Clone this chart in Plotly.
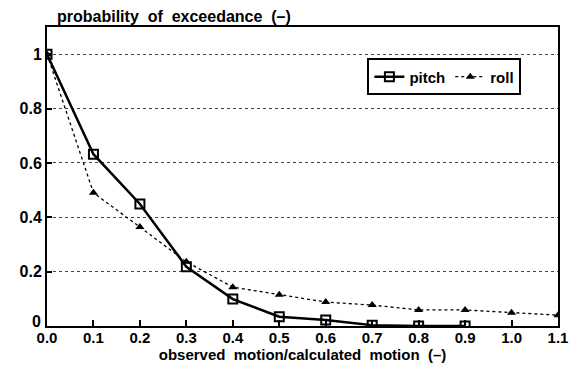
import plotly.graph_objects as go

x_vals = [0.0, 0.1, 0.2, 0.3, 0.4, 0.5, 0.6, 0.7, 0.8, 0.9, 1.0, 1.1]
pitch_x = [0.0, 0.1, 0.2, 0.3, 0.4, 0.5, 0.6, 0.7, 0.8, 0.9]
pitch_y = [1.0, 0.632, 0.449, 0.218, 0.099, 0.034, 0.022, 0.003, 0.0, 0.0]
roll_x = [0.0, 0.1, 0.2, 0.3, 0.4, 0.5, 0.6, 0.7, 0.8, 0.9, 1.0, 1.1]
roll_y = [1.0, 0.49, 0.364, 0.236, 0.143, 0.115, 0.088, 0.077, 0.059, 0.059, 0.049, 0.04]
x_ticktext = ["0.0", "0.1", "0.2", "0.3", "0.4", "0.5", "0.6", "0.7", "0.8", "0.9", "1.0", "1.1"]
y_tickvals = [0, 0.2, 0.4, 0.6, 0.8, 1.0]
y_ticktext = ["", "0.2", "0.4", "0.6", "0.8", "1"]
y_zero_label = "0"

FONT = "Liberation Sans"

fig = go.Figure()
fig.add_trace(go.Scatter(
    x=pitch_x, y=pitch_y, name="pitch", mode="lines+markers",
    line=dict(color="black", width=2.5),
    marker=dict(symbol="square-open", size=9, color="black", line=dict(width=2)),
))
fig.add_trace(go.Scatter(
    x=roll_x, y=roll_y, name="roll", mode="lines+markers",
    line=dict(color="black", width=1.3, dash="dot"),
    marker=dict(symbol="triangle-up", size=8, color="black"),
))

fig.update_layout(
    width=580, height=375,
    margin=dict(l=47, r=19, t=27, b=49),
    paper_bgcolor="white", plot_bgcolor="white",
    font=dict(family=FONT, size=14, color="black"),
    showlegend=True,
    legend=dict(
        x=0.627, y=0.895, xanchor="left", yanchor="top",
        orientation="h", bordercolor="black", borderwidth=2,
        bgcolor="white",
        font=dict(family=FONT, size=15, color="black", weight="bold"),
        itemwidth=30, tracegroupgap=0,
    ),
    annotations=[
        dict(
            text="<b>probability  of  exceedance  (–)</b>",
            xref="paper", yref="paper", x=0.015, y=1.0, xanchor="left", yanchor="bottom",
            showarrow=False, font=dict(family=FONT, size=16, color="black"),
        ),
        dict(
            text="<b>" + y_zero_label + "</b>",
            xref="paper", yref="y", x=0, y=0, xanchor="right", yanchor="middle",
            xshift=-4, yshift=5, showarrow=False,
            font=dict(family=FONT, size=16, color="black"),
        ),
    ],
)
fig.update_xaxes(
    range=[0, 1.1], tickvals=x_vals, ticktext=x_ticktext,
    showline=True, linecolor="black", linewidth=2, mirror=True,
    ticks="inside", ticklen=6, tickwidth=2, tickcolor="black",
    showgrid=False, zeroline=False, ticklabelstandoff=-3,
    tickfont=dict(family=FONT, size=15, color="black", weight="bold"),
    title=dict(text="observed  motion/calculated  motion  (–)",
               font=dict(family=FONT, size=15, color="black", weight=600), standoff=2),
)
fig.update_yaxes(
    range=[0, 1.1], tickvals=y_tickvals, ticktext=y_ticktext,
    showline=True, linecolor="black", linewidth=2, mirror=True,
    ticks="inside", ticklen=5, tickwidth=2, tickcolor="black",
    showgrid=True, gridcolor="#444", gridwidth=1, griddash="dot",
    zeroline=False,
    tickfont=dict(family=FONT, size=16, color="black", weight="bold"),
)

fig.write_html("out.html")
